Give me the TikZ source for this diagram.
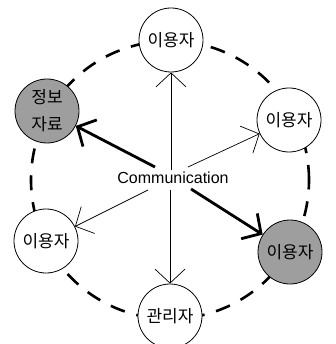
\documentclass[tikz,border=0pt]{standalone}
\usepackage{fontspec}
\setmainfont{Liberation Sans}
\newfontfamily\kr{Noto Sans CJK KR}
\usetikzlibrary{arrows.meta}
\begin{document}
\begin{tikzpicture}[x=1pt,y=-1pt,
  person/.style={circle,draw=black,line width=0.8pt,fill=white,minimum size=64pt,inner sep=0pt,
    font=\kr\fontsize{17}{27}\selectfont,align=center},
  hot/.style={person,fill=black!38},
  ring/.style={line width=2.6pt,dash pattern=on 15pt off 12pt},
  thinarrow/.style={line width=0.7pt,-{Straight Barb[length=14pt,width=30pt]}},
  thickarrow/.style={line width=2.8pt,-{Straight Barb[length=14pt,width=30pt]}}]
\useasboundingbox (0,0) rectangle (335,344);
\draw[ring] (170,180) circle[radius=139pt];
\node[person] (u1) at (171,40) {이용자};
\node[hot] (info) at (47,111) {정보\\자료};
\node[person] (u2) at (289,120) {이용자};
\node[person] (u3) at (46,241) {이용자};
\node[hot] (u4) at (290,252) {이용자};
\node[person] (adm) at (170,316) {관리자};
\node[font=\fontsize{16}{18}\selectfont,inner sep=0pt] (comm) at (173,178) {Communication};
\coordinate (s1) at (171,170);
\coordinate (s2) at (170,190);
\coordinate (s3) at (188,167);
\coordinate (s4) at (148,190);
\coordinate (s5) at (155,167);
\coordinate (s6) at (191,189);
\draw[thinarrow] (s1) -- (u1);
\draw[thinarrow] (s2) -- (adm);
\draw[thinarrow] (s3) -- (u2);
\draw[thinarrow] (s4) -- (u3);
\draw[thickarrow] (s5) -- (info);
\draw[thickarrow] (s6) -- (u4);
\end{tikzpicture}
\end{document}
